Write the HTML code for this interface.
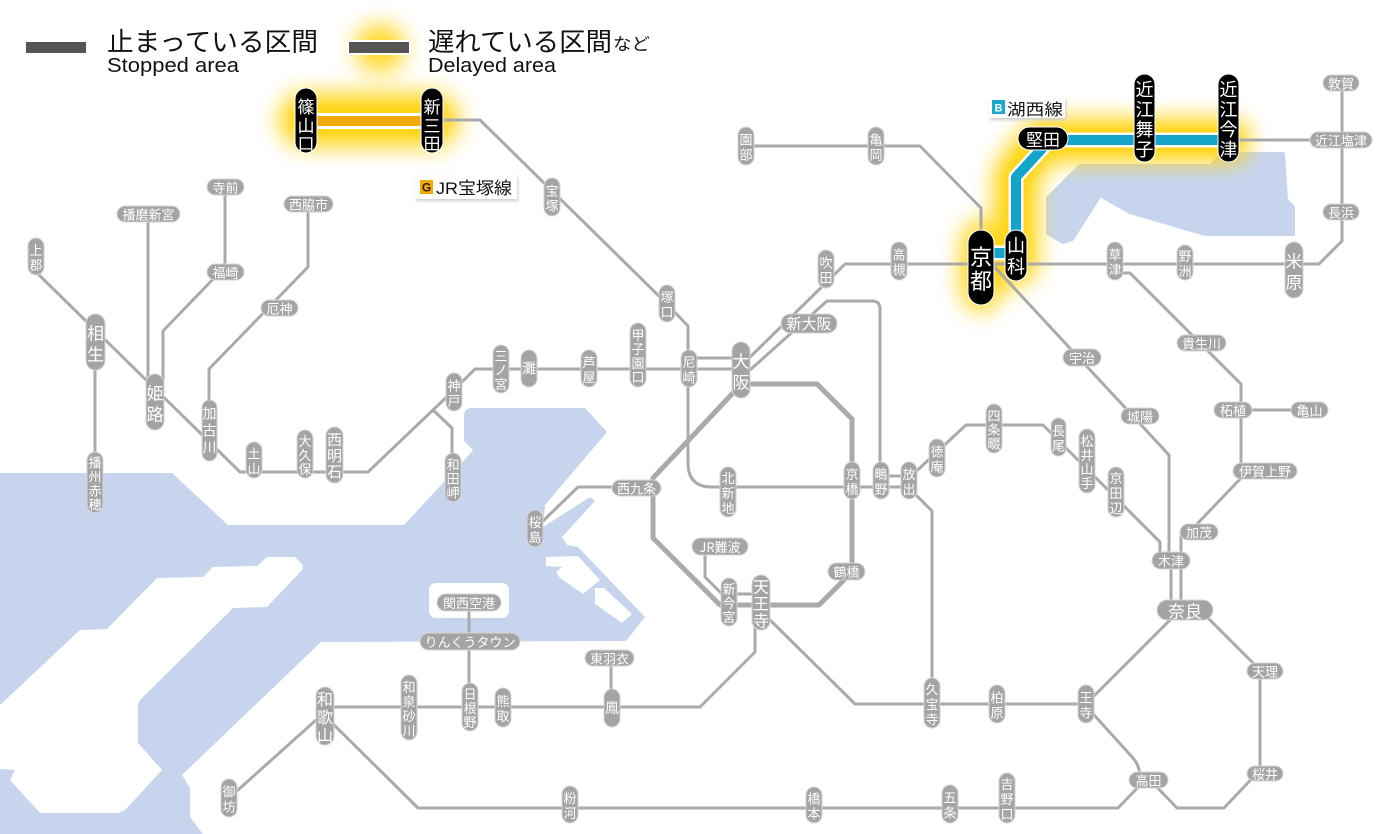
<!DOCTYPE html>
<html><head><meta charset="utf-8"><style>
html,body{margin:0;padding:0;background:#fff;}
svg{display:block;}
.p rect{fill:#a4a4a4;stroke:#d6d6d6;stroke-width:1;}
.p text,.b text{fill:#fff;font-family:"Noto Sans CJK JP","Liberation Sans",sans-serif;font-size:13px;text-anchor:middle;dominant-baseline:central;}
.b rect{fill:#000;stroke:#fff;stroke-width:1;}
.lg{font-family:"Liberation Sans","Noto Sans CJK JP",sans-serif;fill:#111;}
</style></head><body>
<svg width="1400" height="834" viewBox="0 0 1400 834" xmlns="http://www.w3.org/2000/svg">
<defs>
<filter id="bl" x="-60%" y="-60%" width="220%" height="220%"><feGaussianBlur stdDeviation="11"/></filter>
<filter id="bl2" x="-60%" y="-60%" width="220%" height="220%"><feGaussianBlur stdDeviation="6"/></filter>
<filter id="sh" x="-20%" y="-20%" width="140%" height="160%"><feGaussianBlur stdDeviation="1.5"/></filter>
</defs>
<rect width="1400" height="834" fill="#fff"/>

<!-- sea -->
<path fill="#c6d4ee" d="M0,473 L172,473 L228,525 L404,525 L466,458 L473,450 L464,441 L464,416 Q464,408 472,408 L585,408 L607,432 L545,505 L543,527 L590,497 L595,501 L562,537 L567,545 L578,547 L645,617 L626,641 L321,642 L182,775 L190,788 L190,817 L203,834 L0,834 Z"/>
<path fill="#fff" d="M267,557 L295,557 L303,565 L302,570 L267,607 L233,608 L140,700 L138,705 L138,743 L162,770 L125,810 L118,813 L40,813 L10,780 L15,770 L0,769 L0,705 L80,630 L107,629 L157,578 L203,577 L213,567 L257,566 Z"/>
<rect x="429" y="583" width="80" height="35" rx="7" fill="#fff"/>
<path fill="#fff" d="M546,557 L578,556 L600,580 L583,594 L560,578 L556,572 L562,567 L546,566 Z M595,588 L604,588 L632,614 L622,623 L595,604 Z"/>
<!-- lake -->
<path fill="#c6d4ee" stroke="#c6d4ee" stroke-width="4" stroke-linejoin="round" d="M1080,166 L1211,166 L1222,154 L1283,154 L1286,200 L1293,207 L1293,234 L1205,234 L1130,212 L1100,195 L1072,239 L1063,242 L1048,233 L1048,198 Z"/>

<!-- glows -->
<g filter="url(#bl)" fill="none" stroke="#ffd200" stroke-linecap="round" stroke-linejoin="round" opacity="0.85">
<ellipse cx="380" cy="48" rx="26" ry="24" fill="#ffd200" stroke="none"/>
<path d="M306,120 H432" stroke-width="56"/>
<path d="M981,272 L1016,262 V175 L1043,140 H1228" stroke-width="46"/>
<path d="M981,240 V292" stroke-width="40"/>
</g>
<g filter="url(#bl2)" fill="none" stroke="#ffd000" stroke-linecap="round" stroke-linejoin="round" opacity="0.7">
<path d="M306,120 H432" stroke-width="26"/>
<path d="M981,262 L1016,255 V175 L1043,140 H1228" stroke-width="22"/>
</g>

<!-- grey lines -->
<g fill="none" stroke="#aaaaaa" stroke-width="3" stroke-linejoin="round" stroke-linecap="round">
<path d="M37,273 L240,472 L368,472 L454,390 L475,369 L740,369"/>
<path d="M433,410 L452,428 L452,470"/>
<path d="M95,340 V480"/>
<path d="M148,214 V400"/>
<path d="M225,187 V272"/>
<path d="M218,274 L163,331 V395"/>
<path d="M308,204 V267 L209,369 V430"/>
<path d="M432,120 H480 L666,303 L688,326 V463 Q688,487 712,487 H909"/>
<path d="M689,358 H741"/>
<path d="M745,362 L833,276 L845,264 H1319 L1342,241 V83"/>
<path d="M750,370 L827,301 H872 Q880,301 880,309 V476 H909"/>
<path d="M540,524 L578,487 H653"/>
<path d="M705,547 V577 L722,594 H761"/>
<path d="M909,478 L966,425 H1043 L1160,542 V560"/>
<path d="M909,488 L932,511 V704"/>
<path d="M765,615 L855,704 H1086 L1180,610"/>
<path d="M1086,706 L1133,758 Q1140,766 1140,778"/>
<path d="M325,716 L418,808 H1118 L1145,780"/>
<path d="M1150,780 L1177,808 H1224 L1260,770 V670 L1200,610"/>
<path d="M325,707 H700 L755,652 V610"/>
<path d="M229,798 L325,712"/>
<path d="M611,658 V708"/>
<path d="M469,602 V707"/>
<path d="M990,262 L1169,455 V560"/>
<path d="M1171,568 V605"/>
<path d="M1243,476 L1197,524 M1181,536 V605"/>
<path d="M1118,273 H1130 L1241,384 V471"/>
<path d="M1252,410 H1291"/>
<path d="M746,146 H920 L981,208 V240"/>
<path d="M1239,140 H1341"/>
<path d="M741,384 H817 L852,419 V572 L819,605 H720 L653,538 V478 L733,393" stroke-width="5"/>
</g>

<!-- Kosei line -->
<path d="M981,253 H1016 V177 L1050,140 H1228" fill="none" stroke="#fff" stroke-width="15" stroke-linejoin="round"/>
<path d="M981,253 H1016 V177 L1050,140 H1228" fill="none" stroke="#13a4c9" stroke-width="10" stroke-linejoin="round"/>
<!-- Fukuchiyama delayed -->
<path d="M317,121 H421" fill="none" stroke="#fff" stroke-width="16"/>
<path d="M317,121 H421" fill="none" stroke="#f2a900" stroke-width="10"/>

<!-- legend -->
<rect x="26" y="42" width="60" height="11" fill="#555"/>
<rect x="348" y="41" width="62" height="13" fill="#555" stroke="#fff" stroke-width="2"/>
<text class="lg" x="107" y="51" font-size="26" textLength="211" lengthAdjust="spacingAndGlyphs">止まっている区間</text>
<text class="lg" x="107" y="72" font-size="20" textLength="132" lengthAdjust="spacingAndGlyphs">Stopped area</text>
<text class="lg" x="428" y="51" font-size="26" textLength="184" lengthAdjust="spacingAndGlyphs">遅れている区間</text>
<text class="lg" x="613" y="50" font-size="17" textLength="37" lengthAdjust="spacingAndGlyphs">など</text>
<text class="lg" x="428" y="72" font-size="20" textLength="128" lengthAdjust="spacingAndGlyphs">Delayed area</text>

<!-- line labels -->
<rect x="416" y="177" width="102" height="24" fill="#ccc" filter="url(#sh)"/>
<rect x="415" y="175" width="102" height="24" fill="#fff"/>
<rect x="420" y="180" width="13" height="14" fill="#f5a800"/>
<text x="426.5" y="191.5" font-family="Liberation Sans,sans-serif" font-size="12" font-weight="bold" text-anchor="middle" fill="#222">G</text>
<text class="lg" x="436" y="194" font-size="17" textLength="76" lengthAdjust="spacingAndGlyphs">JR宝塚線</text>

<rect x="990" y="99" width="76" height="21" fill="#ccc" filter="url(#sh)"/>
<rect x="989" y="97" width="76" height="21" fill="#fff"/>
<rect x="992" y="100" width="13" height="14" fill="#18a8d0"/>
<text x="998.5" y="111.5" font-family="Liberation Sans,sans-serif" font-size="11" font-weight="bold" text-anchor="middle" fill="#fff">B</text>
<text class="lg" x="1007" y="115" font-size="16" textLength="56" lengthAdjust="spacingAndGlyphs">湖西線</text>

<!-- grey vertical stations -->
<g class="p">
<rect x="28" y="238" width="16" height="37" rx="8"/><text x="36"><tspan x="36" y="249">上</tspan><tspan x="36" y="264">郡</tspan></text>
<rect x="86" y="314" width="19" height="56" rx="9.5"/><text x="95.5" style="font-size:17px"><tspan x="95.5" y="331.5">相</tspan><tspan x="95.5" y="352.5">生</tspan></text>
<rect x="146" y="374" width="18" height="56" rx="9"/><text x="155" style="font-size:17px"><tspan x="155" y="391.5">姫</tspan><tspan x="155" y="412.5">路</tspan></text>
<rect x="87" y="452" width="16" height="61" rx="8"/><text x="95"><tspan x="95" y="461.5">播</tspan><tspan x="95" y="475.5">州</tspan><tspan x="95" y="489.5">赤</tspan><tspan x="95" y="503.5">穂</tspan></text>
<rect x="202" y="400" width="15" height="61" rx="7.5"/><text x="209.5" style="font-size:14px"><tspan x="209.5" y="413.5">加</tspan><tspan x="209.5" y="430.5">古</tspan><tspan x="209.5" y="447.5">川</tspan></text>
<rect x="246" y="442" width="16" height="36" rx="8"/><text x="254"><tspan x="254" y="452.5">土</tspan><tspan x="254" y="467.5">山</tspan></text>
<rect x="297" y="430" width="16" height="48" rx="8"/><text x="305"><tspan x="305" y="440">大</tspan><tspan x="305" y="454">久</tspan><tspan x="305" y="468">保</tspan></text>
<rect x="326" y="427" width="17" height="56" rx="8.5"/><text x="334.5" style="font-size:15px"><tspan x="334.5" y="439">西</tspan><tspan x="334.5" y="455">明</tspan><tspan x="334.5" y="471">石</tspan></text>
<rect x="446" y="373" width="16" height="38" rx="8"/><text x="454"><tspan x="454" y="384.5">神</tspan><tspan x="454" y="399.5">戸</tspan></text>
<rect x="445" y="453" width="16" height="49" rx="8"/><text x="453"><tspan x="453" y="463.5">和</tspan><tspan x="453" y="477.5">田</tspan><tspan x="453" y="491.5">岬</tspan></text>
<rect x="493" y="345" width="16" height="48" rx="8"/><text x="501"><tspan x="501" y="355">三</tspan><tspan x="501" y="369">ノ</tspan><tspan x="501" y="383">宮</tspan></text>
<rect x="521" y="350" width="16" height="37" rx="8"/><text x="529" y="368.5" style="font-size:14px">灘</text>
<rect x="581" y="350" width="16" height="37" rx="8"/><text x="589"><tspan x="589" y="361">芦</tspan><tspan x="589" y="376">屋</tspan></text>
<rect x="630" y="323" width="16" height="64" rx="8"/><text x="638"><tspan x="638" y="334">甲</tspan><tspan x="638" y="348">子</tspan><tspan x="638" y="362">園</tspan><tspan x="638" y="376">口</tspan></text>
<rect x="681" y="350" width="16" height="37" rx="8"/><text x="689"><tspan x="689" y="361">尼</tspan><tspan x="689" y="376">崎</tspan></text>
<rect x="659" y="285" width="16" height="37" rx="8"/><text x="667"><tspan x="667" y="296">塚</tspan><tspan x="667" y="311">口</tspan></text>
<rect x="544" y="178" width="16" height="38" rx="8"/><text x="552"><tspan x="552" y="189.5">宝</tspan><tspan x="552" y="204.5">塚</tspan></text>
<rect x="732" y="342" width="18" height="56" rx="9"/><text x="741" style="font-size:17px"><tspan x="741" y="359.5">大</tspan><tspan x="741" y="380.5">阪</tspan></text>
<rect x="818" y="250" width="16" height="38" rx="8"/><text x="826"><tspan x="826" y="261.5">吹</tspan><tspan x="826" y="276.5">田</tspan></text>
<rect x="891" y="242" width="16" height="38" rx="8"/><text x="899"><tspan x="899" y="253.5">高</tspan><tspan x="899" y="268.5">槻</tspan></text>
<rect x="720" y="467" width="16" height="50" rx="8"/><text x="728"><tspan x="728" y="477">北</tspan><tspan x="728" y="492">新</tspan><tspan x="728" y="507">地</tspan></text>
<rect x="844" y="462" width="16" height="37" rx="8"/><text x="852"><tspan x="852" y="473">京</tspan><tspan x="852" y="488">橋</tspan></text>
<rect x="873" y="462" width="16" height="37" rx="8"/><text x="881"><tspan x="881" y="473">鴫</tspan><tspan x="881" y="488">野</tspan></text>
<rect x="901" y="462" width="16" height="37" rx="8"/><text x="909"><tspan x="909" y="473">放</tspan><tspan x="909" y="488">出</tspan></text>
<rect x="929" y="439" width="16" height="38" rx="8"/><text x="937"><tspan x="937" y="450.5">徳</tspan><tspan x="937" y="465.5">庵</tspan></text>
<rect x="986" y="404" width="16" height="49" rx="8"/><text x="994"><tspan x="994" y="414.5">四</tspan><tspan x="994" y="428.5">条</tspan><tspan x="994" y="442.5">畷</tspan></text>
<rect x="1051" y="418" width="15" height="38" rx="7.5"/><text x="1058.5"><tspan x="1058.5" y="429.5">長</tspan><tspan x="1058.5" y="444.5">尾</tspan></text>
<rect x="1079" y="429" width="16" height="64" rx="8"/><text x="1087"><tspan x="1087" y="440">松</tspan><tspan x="1087" y="454">井</tspan><tspan x="1087" y="468">山</tspan><tspan x="1087" y="482">手</tspan></text>
<rect x="1108" y="467" width="16" height="50" rx="8"/><text x="1116"><tspan x="1116" y="477">京</tspan><tspan x="1116" y="492">田</tspan><tspan x="1116" y="507">辺</tspan></text>
<rect x="721" y="578" width="16" height="48" rx="8"/><text x="729"><tspan x="729" y="588">新</tspan><tspan x="729" y="602">今</tspan><tspan x="729" y="616">宮</tspan></text>
<rect x="752" y="575" width="18" height="55" rx="9"/><text x="761" style="font-size:16px"><tspan x="761" y="585.5">天</tspan><tspan x="761" y="602.5">王</tspan><tspan x="761" y="619.5">寺</tspan></text>
<rect x="527" y="510" width="16" height="37" rx="8"/><text x="535"><tspan x="535" y="521">桜</tspan><tspan x="535" y="536">島</tspan></text>
<rect x="924" y="678" width="16" height="50" rx="8"/><text x="932"><tspan x="932" y="688">久</tspan><tspan x="932" y="703">宝</tspan><tspan x="932" y="718">寺</tspan></text>
<rect x="989" y="685" width="16" height="38" rx="8"/><text x="997"><tspan x="997" y="696.5">柏</tspan><tspan x="997" y="711.5">原</tspan></text>
<rect x="1078" y="685" width="16" height="38" rx="8"/><text x="1086"><tspan x="1086" y="696.5">王</tspan><tspan x="1086" y="711.5">寺</tspan></text>
<rect x="316" y="687" width="18" height="58" rx="9"/><text x="325" style="font-size:16px"><tspan x="325" y="698">和</tspan><tspan x="325" y="716">歌</tspan><tspan x="325" y="734">山</tspan></text>
<rect x="401" y="675" width="16" height="65" rx="8"/><text x="409"><tspan x="409" y="685.8">和</tspan><tspan x="409" y="700.3">泉</tspan><tspan x="409" y="714.8">砂</tspan><tspan x="409" y="729.3">川</tspan></text>
<rect x="462" y="683" width="16" height="48" rx="8"/><text x="470"><tspan x="470" y="693">日</tspan><tspan x="470" y="707">根</tspan><tspan x="470" y="721">野</tspan></text>
<rect x="495" y="688" width="16" height="39" rx="8"/><text x="503"><tspan x="503" y="700">熊</tspan><tspan x="503" y="715">取</tspan></text>
<rect x="604" y="689" width="16" height="38" rx="8"/><text x="612" y="708" style="font-size:14px">鳳</text>
<rect x="221" y="779" width="16" height="38" rx="8"/><text x="229"><tspan x="229" y="790.5">御</tspan><tspan x="229" y="805.5">坊</tspan></text>
<rect x="562" y="786" width="16" height="37" rx="8"/><text x="570"><tspan x="570" y="797">粉</tspan><tspan x="570" y="812">河</tspan></text>
<rect x="806" y="787" width="16" height="36" rx="8"/><text x="814"><tspan x="814" y="797.5">橋</tspan><tspan x="814" y="812.5">本</tspan></text>
<rect x="942" y="785" width="16" height="38" rx="8"/><text x="950"><tspan x="950" y="796.5">五</tspan><tspan x="950" y="811.5">条</tspan></text>
<rect x="999" y="773" width="16" height="50" rx="8"/><text x="1007"><tspan x="1007" y="783">吉</tspan><tspan x="1007" y="798">野</tspan><tspan x="1007" y="813">口</tspan></text>
<rect x="1107" y="242" width="16" height="38" rx="8"/><text x="1115"><tspan x="1115" y="253.5">草</tspan><tspan x="1115" y="268.5">津</tspan></text>
<rect x="1177" y="245" width="16" height="35" rx="8"/><text x="1185"><tspan x="1185" y="255">野</tspan><tspan x="1185" y="270">洲</tspan></text>
<rect x="1285" y="242" width="18" height="56" rx="9"/><text x="1294" style="font-size:17px"><tspan x="1294" y="259.5">米</tspan><tspan x="1294" y="280.5">原</tspan></text>
<rect x="738" y="127" width="16" height="38" rx="8"/><text x="746"><tspan x="746" y="138.5">園</tspan><tspan x="746" y="153.5">部</tspan></text>
<rect x="868" y="127" width="16" height="38" rx="8"/><text x="876"><tspan x="876" y="138.5">亀</tspan><tspan x="876" y="153.5">岡</tspan></text>
</g>

<!-- grey horizontal stations -->
<g class="p">
<rect x="207" y="179" width="37" height="16" rx="8"/><text x="225.5" y="187">寺前</text>
<rect x="117" y="206" width="63" height="16" rx="8"/><text x="148.5" y="214">播磨新宮</text>
<rect x="284" y="196" width="49" height="16" rx="8"/><text x="308.5" y="204">西脇市</text>
<rect x="207" y="264" width="37" height="16" rx="8"/><text x="225.5" y="272">福崎</text>
<rect x="261" y="300" width="37" height="16" rx="8"/><text x="279.5" y="308">厄神</text>
<rect x="781" y="314" width="56" height="19" rx="9.5"/><text x="809" y="323.5" style="font-size:15px">新大阪</text>
<rect x="612" y="480" width="49" height="16" rx="8"/><text x="636.5" y="488">西九条</text>
<rect x="692" y="538" width="56" height="17" rx="8.5"/><text x="720" y="546.5">JR難波</text>
<rect x="828" y="563" width="37" height="17" rx="8.5"/><text x="846.5" y="571.5">鶴橋</text>
<rect x="1063" y="349" width="38" height="17" rx="8.5"/><text x="1082" y="357.5">宇治</text>
<rect x="1121" y="408" width="38" height="16" rx="8"/><text x="1140" y="416">城陽</text>
<rect x="1177" y="335" width="49" height="16" rx="8"/><text x="1201.5" y="343">貴生川</text>
<rect x="1214" y="402" width="38" height="16" rx="8"/><text x="1233" y="410">柘植</text>
<rect x="1291" y="402" width="37" height="16" rx="8"/><text x="1309.5" y="410">亀山</text>
<rect x="1233" y="463" width="64" height="16" rx="8"/><text x="1265" y="471">伊賀上野</text>
<rect x="1180" y="524" width="38" height="16" rx="8"/><text x="1199" y="532">加茂</text>
<rect x="1152" y="552" width="38" height="17" rx="8.5"/><text x="1171" y="560.5">木津</text>
<rect x="1157" y="600" width="56" height="20" rx="10"/><text x="1185" y="610" style="font-size:17px">奈良</text>
<rect x="1247" y="663" width="36" height="16" rx="8"/><text x="1265" y="671">天理</text>
<rect x="1247" y="766" width="36" height="15" rx="7.5"/><text x="1265" y="773.5">桜井</text>
<rect x="1129" y="772" width="39" height="16" rx="8"/><text x="1148.5" y="780">高田</text>
<rect x="437" y="594" width="64" height="17" rx="8.5"/><text x="469" y="602.5">関西空港</text>
<rect x="420" y="633" width="100" height="17" rx="8.5"/><text x="470" y="641.5">りんくうタウン</text>
<rect x="585" y="650" width="49" height="16" rx="8"/><text x="609.5" y="658">東羽衣</text>
<rect x="1323" y="75" width="36" height="16" rx="8"/><text x="1341" y="83">敦賀</text>
<rect x="1323" y="204" width="36" height="16" rx="8"/><text x="1341" y="212">長浜</text>
<rect x="1310" y="132" width="62" height="16" rx="8"/><text x="1341" y="140">近江塩津</text>
</g>

<!-- black stations -->
<g class="b">
<rect x="295" y="88" width="22" height="65" rx="11"/><text x="306" style="font-size:17px"><tspan x="306" y="105">篠</tspan><tspan x="306" y="124">山</tspan><tspan x="306" y="142">口</tspan></text>
<rect x="421" y="88" width="22" height="65" rx="11"/><text x="432" style="font-size:17px"><tspan x="432" y="105">新</tspan><tspan x="432" y="124">三</tspan><tspan x="432" y="142">田</tspan></text>
<rect x="968" y="230" width="26" height="75" rx="13"/><text x="981" style="font-size:22px"><tspan x="981" y="256">京</tspan><tspan x="981" y="280">都</tspan></text>
<rect x="1005" y="230" width="22" height="51" rx="11"/><text x="1016" style="font-size:18px"><tspan x="1016" y="245">山</tspan><tspan x="1016" y="266">科</tspan></text>
<rect x="1018" y="127" width="50" height="23" rx="11.5"/><text x="1043" y="138.5" style="font-size:17px">堅田</text>
<rect x="1134" y="74" width="21" height="88" rx="10.5"/><text x="1144.5" style="font-size:18px"><tspan x="1144.5" y="89">近</tspan><tspan x="1144.5" y="109">江</tspan><tspan x="1144.5" y="129">舞</tspan><tspan x="1144.5" y="149">子</tspan></text>
<rect x="1218" y="74" width="21" height="88" rx="10.5"/><text x="1228.5" style="font-size:18px"><tspan x="1228.5" y="89">近</tspan><tspan x="1228.5" y="109">江</tspan><tspan x="1228.5" y="129">今</tspan><tspan x="1228.5" y="149">津</tspan></text>
</g>
</svg>
</body></html>
